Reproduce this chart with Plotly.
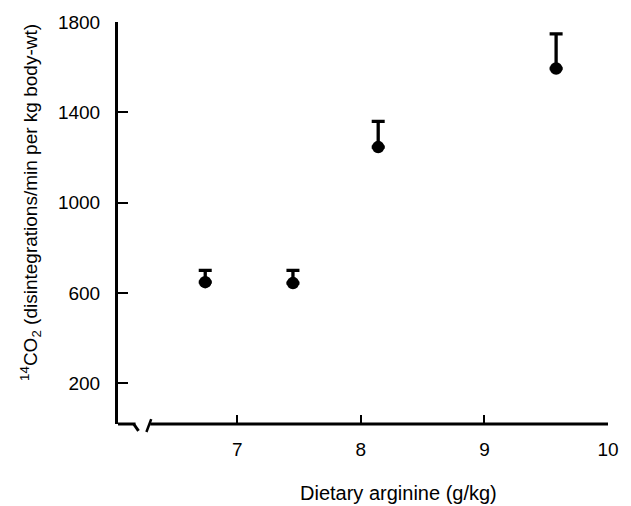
import plotly.graph_objects as go

arginine = [6.74, 7.45, 8.14, 9.58]
co2 = [648, 644, 1246, 1594]
err_up = [52, 56, 114, 153]

x_ticks = [7, 8, 9, 10]
y_ticks = [200, 600, 1000, 1400, 1800]

X_RANGE = [6.034, 10.0]
Y_RANGE = [20, 1800]
FONT = "Liberation Sans"
FS = 19

fig = go.Figure()
fig.add_trace(go.Scatter(
    x=arginine, y=co2, mode="markers",
    marker=dict(color="black", size=12.5),
    error_y=dict(type="data", symmetric=False, array=err_up,
                 arrayminus=[0] * len(err_up), color="black",
                 thickness=3.3, width=6.5),
    showlegend=False, cliponaxis=False, hoverinfo="skip",
))

# broken x axis line (axis decoration)
axis_line = dict(color="black", width=3)
fig.add_shape(type="line", xref="x", yref="paper", x0=X_RANGE[0], x1=6.176, y0=0, y1=0, line=axis_line)
fig.add_shape(type="line", xref="x", yref="paper", x0=6.161, x1=6.200, y0=0, y1=-0.017, line=dict(color="black", width=3))
fig.add_shape(type="line", xref="x", yref="paper", x0=6.303, x1=6.264, y0=0.012, y1=-0.020, line=dict(color="black", width=2.5))
fig.add_shape(type="line", xref="x", yref="paper", x0=6.295, x1=X_RANGE[1], y0=0, y1=0, line=axis_line)

fig.update_layout(
    width=631, height=506,
    margin=dict(l=118, r=12, t=18, b=82),
    paper_bgcolor="white", plot_bgcolor="white",
    font=dict(family=FONT, size=FS, color="black"),
    xaxis=dict(range=X_RANGE, tickvals=x_ticks, ticktext=[str(v) for v in x_ticks],
               ticks="inside", ticklen=9, tickwidth=2, tickcolor="black",
               showline=False, showgrid=False, zeroline=False,
               tickfont=dict(size=FS, family=FONT),
               ticklabelstandoff=12),
    yaxis=dict(range=Y_RANGE, tickvals=y_ticks, ticktext=[str(v) for v in y_ticks],
               ticks="inside", ticklen=10, tickwidth=2, tickcolor="black",
               showline=True, linecolor="black", linewidth=3,
               tickfont=dict(size=FS, family=FONT),
               showgrid=False, zeroline=False, ticklabelstandoff=11),
    annotations=[
        dict(text="Dietary arginine (g/kg)", xref="paper", yref="paper",
             x=0.573, y=0, yshift=-69, showarrow=False,
             font=dict(size=20, family=FONT), xanchor="center", yanchor="middle"),
        dict(text="<sup>14</sup>CO<sub>2</sub> (disintegrations/min per kg body-wt)",
             xref="paper", yref="paper", x=0, xshift=-87, y=0.55,
             showarrow=False, textangle=-90, font=dict(size=FS, family=FONT),
             xanchor="center", yanchor="middle"),
    ],
)

fig.write_html("out.html", config={"displayModeBar": False},
               post_script="document.body.style.margin='0px';")
